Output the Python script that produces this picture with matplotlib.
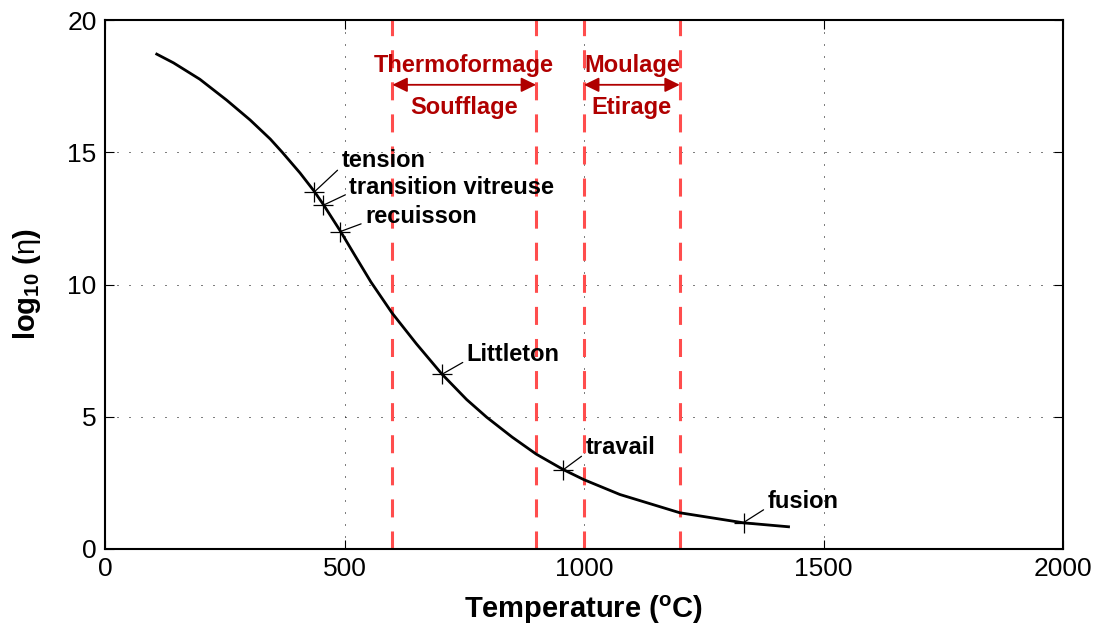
import matplotlib
matplotlib.use("Agg")
import matplotlib.pyplot as plt

plt.rcParams['font.family'] = ['Liberation Sans', 'DejaVu Sans']
plt.rcParams['mathtext.fontset'] = 'custom'
plt.rcParams['mathtext.rm'] = 'Liberation Sans'
plt.rcParams['mathtext.bf'] = 'Liberation Sans:bold'
plt.rcParams['mathtext.it'] = 'Liberation Sans:italic'

# Viscosity curve
temp = [108, 143, 198, 254, 303, 345, 370, 407, 437, 456, 491, 523, 555,
        599, 650, 703, 755, 797, 850, 900, 957, 1000, 1075, 1200, 1333, 1427]
log_eta = [18.71, 18.38, 17.76, 16.97, 16.22, 15.50, 15.00, 14.22, 13.52,
           13.02, 12.03, 11.06, 10.10, 8.93, 7.76, 6.62, 5.65, 4.98, 4.23,
           3.59, 3.00, 2.62, 2.06, 1.37, 0.99, 0.84]

# Characteristic points
pt_names = ['tension', 'transition vitreuse', 'recuisson', 'Littleton',
            'travail', 'fusion']
pt_temp = [437, 456, 491, 703, 957, 1333]
pt_log = [13.5, 13.0, 12.0, 6.6, 3.0, 1.0]

# Process ranges
ranges = [(600, 900), (1000, 1200)]
range_top = ['Thermoformage', 'Moulage']
range_bottom = ['Soufflage', 'Etirage']

xticks = [0, 500, 1000, 1500, 2000]
yticks = [0, 5, 10, 15, 20]

fig = plt.figure(figsize=(11.05, 6.32), dpi=100)
ax = fig.add_axes([105/1105, 83/632, 958/1105, 529/632])

ax.set_xlim(0, 2000)
ax.set_ylim(0, 20)
ax.set_xticks(xticks)
ax.set_yticks(yticks)
ax.tick_params(direction='in', length=6.5, width=0.8, labelsize=19,
               top=True, right=True, pad=6)
for s in ax.spines.values():
    s.set_linewidth(1.5)
ax.grid(True, color='black', linestyle=(0, (1, 11)), linewidth=0.72)

red = '#ff4d4d'
dark_red = '#b00000'
for (a, b) in ranges:
    for v in (a, b):
        ax.axvline(v, color=red, linewidth=2.2, linestyle=(0, (5.9, 4.6)),
                   zorder=2)

ax.plot(temp, log_eta, color='black', linewidth=2.0, zorder=3,
        solid_joinstyle='round')
ax.plot(pt_temp, pt_log, linestyle='none', marker='+', markersize=15,
        markeredgewidth=0.9, color='black', zorder=4)

offsets = [(27, 31), (26, 18), (25, 15), (25, 20), (22, 22), (24, 21)]
for name, t, l, off in zip(pt_names, pt_temp, pt_log, offsets):
    ax.annotate(name, xy=(t, l), xytext=off, textcoords='offset pixels',
                ha='left', va='center', fontsize=17, fontweight='bold',
                arrowprops=dict(arrowstyle='-', color='black', lw=0.9,
                                relpos=(0, 0.25), shrinkA=1, shrinkB=0),
                zorder=5)

arrow_y = 17.55
for (a, b), top, bot in zip(ranges, range_top, range_bottom):
    ax.annotate('', xy=(a, arrow_y), xytext=(b, arrow_y),
                arrowprops=dict(arrowstyle='<|-|>,head_length=0.45,head_width=0.22',
                                mutation_scale=20,
                                color=dark_red, lw=1.3, shrinkA=0, shrinkB=0),
                zorder=5)
    mid = (a + b) / 2
    ax.text(mid, 18.27, top, ha='center', va='center', fontsize=17,
            fontweight='bold', color=dark_red, zorder=5)
    ax.text(mid, 16.71, bot, ha='center', va='center', fontsize=17,
            fontweight='bold', color=dark_red, zorder=5)

ax.set_xlabel(r'Temperature ($^{\mathbf{o}}$C)', fontsize=21, fontweight='bold',
              va='top')
ax.xaxis.set_label_coords(0.5, -0.085)
ax.set_ylabel(r'log$_{\mathbf{10}}$ ($\mathrm{\eta}$)', fontsize=21,
              fontweight='bold', va='center')
ax.yaxis.set_label_coords(-0.0814, 0.5)

fig.savefig('out.png', dpi=100)
